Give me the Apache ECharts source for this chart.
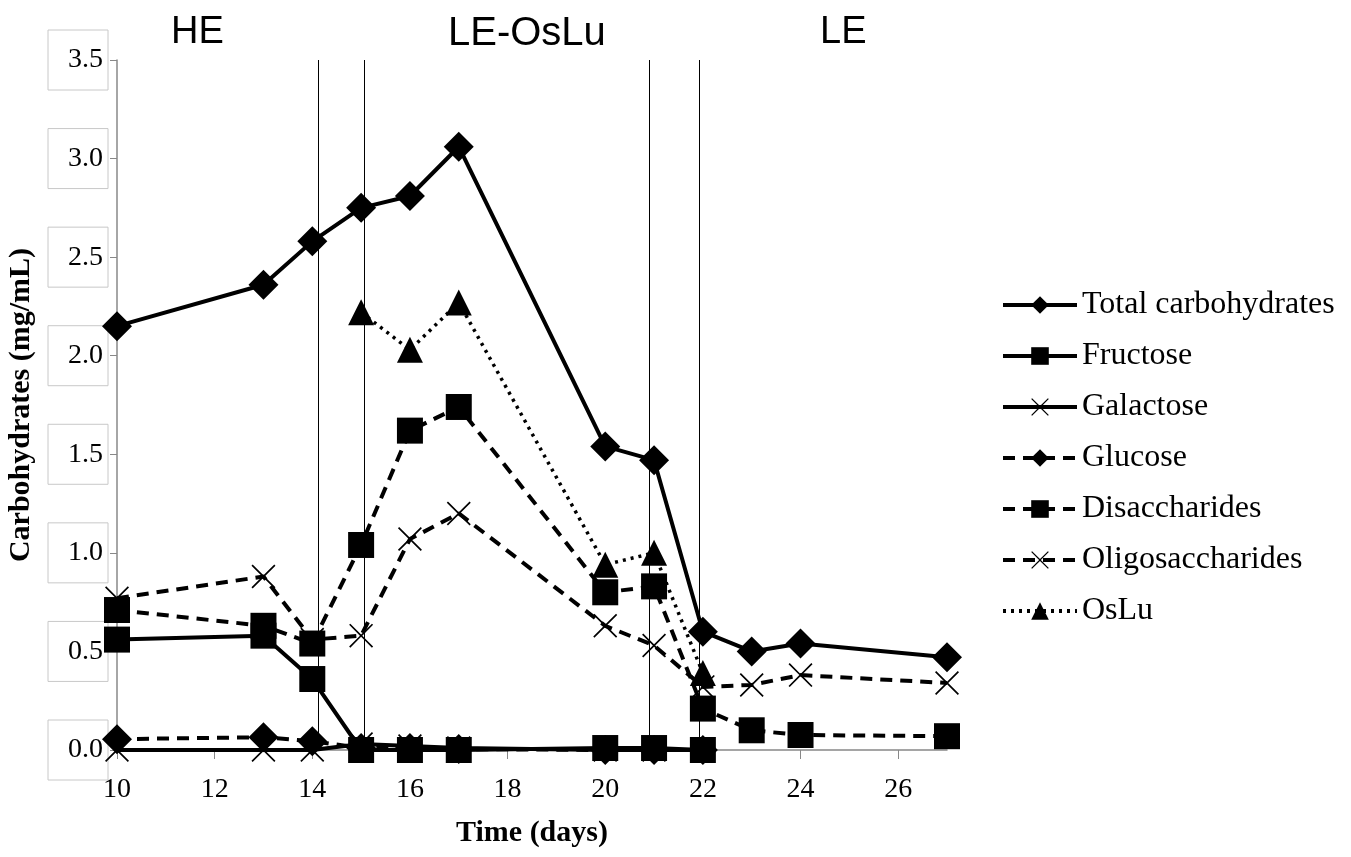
<!DOCTYPE html>
<html>
<head>
<meta charset="utf-8">
<script src="https://cdn.jsdelivr.net/npm/echarts@6/dist/echarts.min.js"></script>
<style>html,body{margin:0;padding:0;background:#fff;}#chart{width:1351px;height:857px;}</style>
</head>
<body>
<div id="chart"></div>
<script>
const days = [10, 13, 14, 15, 16, 17, 20, 21, 22, 23, 24, 27];
const totalCarbs = [2.15, 2.36, 2.58, 2.75, 2.81, 3.06, 1.54, 1.47, 0.60, 0.50, 0.54, 0.47];
const fructose = [0.56, 0.58, 0.36, 0.0, 0.0, 0.0, 0.01, 0.01, 0.0, null, null, null];
const galactose = [0.0, 0.0, 0.0, 0.03, 0.02, 0.01, 0.0, 0.0, 0.0, null, null, null];
const glucose = [0.055, 0.065, 0.045, 0.01, 0.01, 0.005, 0.0, 0.0, 0.0, null, null, null];
const disaccharides = [0.71, 0.63, 0.54, 1.04, 1.62, 1.74, 0.80, 0.83, 0.21, 0.10, 0.076, 0.07];
const oligosaccharides = [0.77, 0.88, 0.56, 0.58, 1.07, 1.20, 0.63, 0.53, 0.32, 0.33, 0.38, 0.34];
const oslu = [null, null, null, 2.22, 2.03, 2.27, 0.94, 1.00, 0.39, null, null, null];
const phaseBoundaries = [14.12, 15.06, 20.9, 21.92];
const phaseLabels = ['HE', 'LE-OsLu', 'LE'];
const xTicks = [10, 12, 14, 16, 18, 20, 22, 24, 26];
const yTicks = [0, 0.5, 1.0, 1.5, 2.0, 2.5, 3.0, 3.5];

function pairs(ys) {
  return days.map((d, i) => ys[i] == null ? null : [d, ys[i]]).filter(p => p);
}
const X_PATH = 'path://M0,1L1,0L10,9L19,0L20,1L11,10L20,19L19,20L10,11L1,20L0,19L9,10Z';
const SERIF = '"Liberation Serif", "Times New Roman", serif';
const DASH = [12, 8];
const DOT = [3, 5];

function mk(name, ys, symbol, size, lineType, lw) {
  return {
    name: name, type: 'line', data: pairs(ys), symbol: symbol, symbolSize: size,
    showAllSymbol: true, clip: false, connectNulls: true,
    lineStyle: { color: '#000', width: lw || 4, type: lineType },
    itemStyle: { color: '#000' },
    emphasis: { disabled: true }
  };
}

const series = [
  mk('Total carbohydrates', totalCarbs, 'diamond', 30, 'solid'),
  mk('Fructose', fructose, 'rect', 26, 'solid'),
  mk('Galactose', galactose, X_PATH, 24, 'solid'),
  mk('Glucose', glucose, 'diamond', 30, DASH),
  mk('Disaccharides', disaccharides, 'rect', 26, DASH),
  mk('Oligosaccharides', oligosaccharides, X_PATH, 24, DASH),
  mk('OsLu', oslu, 'triangle', 26, DOT, 3.5)
];
series[0].markLine = {
  silent: true, symbol: 'none', label: { show: false },
  lineStyle: { color: '#000', width: 1, type: 'solid' },
  data: phaseBoundaries.map(v => ({ xAxis: v }))
};

const chart = echarts.init(document.getElementById('chart'));
chart.setOption({
  animation: false,
  backgroundColor: '#fff',
  grid: { left: 117, right: 404, top: 60, bottom: 107, outerBoundsMode: 'none', containLabel: false },
  xAxis: {
    type: 'value', min: 10, max: 27, interval: 2,
    name: 'Time (days)', nameLocation: 'middle', nameGap: 68,
    nameTextStyle: { fontFamily: SERIF, fontWeight: 'bold', fontSize: 30, color: '#000' },
    axisLine: { lineStyle: { color: '#888', width: 1.5 } },
    axisTick: { show: true, length: 9, lineStyle: { color: '#888' }, customValues: xTicks },
    axisLabel: { customValues: xTicks, fontFamily: SERIF, fontSize: 28, color: '#000', margin: 26 },
    splitLine: { show: false }
  },
  yAxis: {
    type: 'value', min: 0, max: 3.5, interval: 0.5,
    name: 'Carbohydrates (mg/mL)', nameLocation: 'middle', nameGap: 77,
    nameTextStyle: { fontFamily: SERIF, fontWeight: 'bold', fontSize: 30, color: '#000' },
    axisLine: { show: true, lineStyle: { color: '#888', width: 1.5 } },
    axisTick: { show: true, length: 7, lineStyle: { color: '#888' } },
    axisLabel: {
      customValues: yTicks,
      formatter: v => v.toFixed(1), fontFamily: SERIF, fontSize: 28, color: '#000',
      borderColor: '#c8c8c8', borderWidth: 1, padding: [16, 5, 16, 20], margin: 9
    },
    splitLine: { show: false }
  },
  legend: {
    orient: 'vertical', left: 1001, top: 289, padding: 0,
    itemWidth: 74, itemHeight: 22, itemGap: 19,
    lineStyle: { width: 4 },
    textStyle: { fontFamily: SERIF, fontSize: 32, color: '#000' },
    data: series.map(s => s.name)
  },
  graphic: [
    { type: 'text', left: 171, top: 14, style: { text: phaseLabels[0], font: '38px "Liberation Sans", Arial, sans-serif', fill: '#000' } },
    { type: 'text', left: 448, top: 14, style: { text: phaseLabels[1], font: '40px "Liberation Sans", Arial, sans-serif', fill: '#000' } },
    { type: 'text', left: 820, top: 14, style: { text: phaseLabels[2], font: '38px "Liberation Sans", Arial, sans-serif', fill: '#000' } }
  ],
  series: series
});
</script>
</body>
</html>
